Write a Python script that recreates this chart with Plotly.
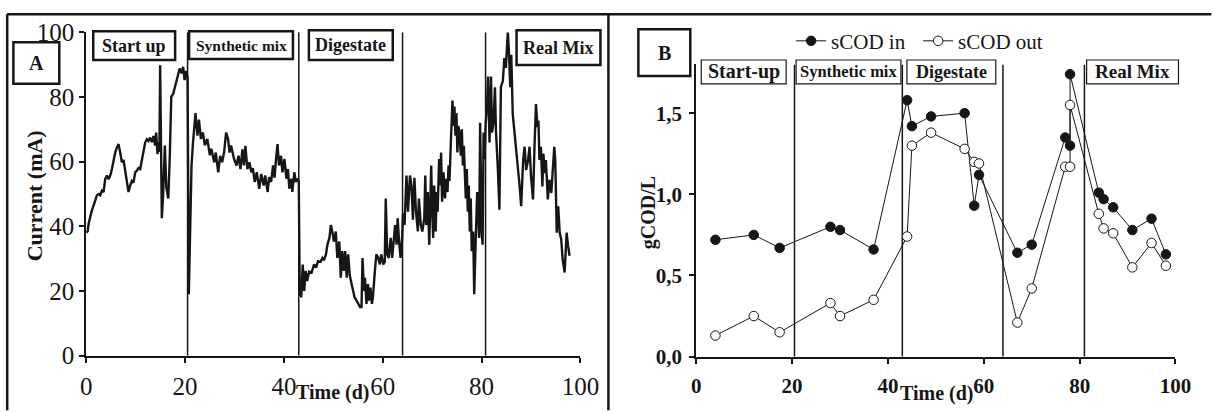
import plotly.graph_objects as go

W, H = 1213, 412
FONT = "Liberation Serif"
INK = "#161616"

# ---------------- Panel A: current vs time ----------------
current_readings = [
    (0.0, 38), (0.27, 38.5), (0.5, 41), (0.81, 43.5), (1.15, 45), (1.5, 46.5), (1.82, 48), (2.16, 49.6),
    (2.49, 50), (2.83, 49.6), (3.16, 51), (3.5, 50.6), (3.84, 54.7), (4.17, 55.7), (4.51, 54.5), (4.85, 55.7),
    (5.19, 57.7), (5.52, 60.8), (5.86, 62.8), (6.19, 64.4), (6.53, 65.4), (6.87, 62.8), (7.2, 59.8), (7.54, 60.5),
    (7.88, 56.7), (8.22, 54.5), (8.55, 50.6), (8.89, 52.6), (9.23, 54), (9.56, 53.5), (9.9, 56.7), (10.24, 57.2),
    (10.57, 58), (10.91, 57.7), (11.25, 60.8), (11.58, 62.8), (11.92, 65.9), (12.26, 66.9), (12.59, 66.4),
    (12.93, 67.4), (13.27, 66), (13.6, 67.9), (13.94, 65), (14.14, 69), (14.41, 62.3), (14.61, 65.9), (14.8, 63),
    (14.95, 89.8), (15.1, 70), (15.29, 42.5), (15.56, 50), (15.9, 65), (16.2, 52), (16.6, 48.6), (16.9, 61.5),
    (17.2, 80), (17.6, 81), (17.9, 82.7), (18.2, 84.2), (18.6, 86.3), (18.9, 88.8), (19.3, 87.3), (19.6, 89.3),
    (19.9, 85.2), (20.2, 88), (20.5, 86), (20.65, 40), (20.75, 19), (20.9, 30), (21.1, 50), (21.3, 58.8),
    (21.6, 65.9), (22.1, 75), (22.5, 68), (22.8, 73), (23.2, 67), (23.6, 69), (24.0, 65), (24.5, 67), (25.0, 62),
    (25.3, 64), (25.9, 59.8), (26.2, 62.8), (26.7, 56.7), (27.1, 61.8), (27.5, 59.8), (27.9, 63), (28.3, 69),
    (28.7, 66.9), (29.0, 62.8), (29.3, 65), (29.9, 60.8), (30.4, 58.8), (30.8, 61.8), (31.2, 57.7), (31.6, 63.8),
    (31.9, 58.8), (32.2, 64.9), (32.6, 57.7), (33.0, 59.8), (33.4, 56.7), (33.7, 58), (34.1, 53.7), (34.5, 56.7),
    (35.0, 51.6), (35.4, 56.2), (35.9, 52.6), (36.2, 55.7), (36.7, 50.6), (37.0, 55.2), (37.4, 53.7), (37.8, 58.8),
    (38.1, 55), (38.4, 60.8), (38.7, 65.4), (39.0, 58.8), (39.4, 61.8), (39.7, 56.7), (40.1, 60.8), (40.5, 54.7),
    (40.8, 57.7), (41.1, 51.6), (41.5, 54.7), (41.7, 50.6), (42.1, 56.7), (42.4, 53.7), (42.7, 54.7), (43.0, 54),
    (43.1, 40), (43.2, 18.5), (43.4, 22.1), (43.5, 18), (43.8, 28.2), (44.1, 20), (44.4, 26.2), (44.7, 23.1),
    (45.1, 26), (45.6, 25.7), (46.1, 28.2), (46.5, 27.2), (46.9, 29.2), (47.4, 29), (47.8, 30.2), (48.1, 29.5),
    (48.5, 31.3), (48.8, 34.3), (49.2, 36.4), (49.5, 40.4), (49.9, 37.4), (50.1, 35.3), (50.5, 38.4), (50.8, 30.2),
    (51.2, 35.3), (51.5, 24.1), (51.8, 32.3), (52.1, 26.2), (52.4, 32.3), (52.7, 24.1), (53.0, 31.3), (53.3, 25),
    (53.7, 22.1), (54.0, 20), (54.3, 18), (54.7, 17), (55.0, 16), (55.4, 15), (55.7, 15), (55.9, 30.2), (56.2, 20),
    (56.4, 24.1), (56.7, 16), (57.0, 22.1), (57.2, 17), (57.5, 21), (57.8, 16), (58.0, 18), (58.4, 26.2),
    (58.7, 31.3), (59.1, 30.2), (59.4, 28.2), (59.7, 31.3), (60.1, 28.2), (60.4, 29), (60.6, 48.6), (60.9, 31.3),
    (61.2, 30.2), (61.6, 36.4), (61.9, 30.2), (62.2, 35.3), (62.5, 40.4), (62.8, 34.3), (63.0, 42.5), (63.3, 35.3),
    (63.6, 30.2), (63.9, 36), (64.1, 44), (64.4, 40.4), (64.8, 55.7), (65.1, 44.5), (65.5, 55.7), (65.8, 52.6),
    (66.1, 42), (66.4, 55), (66.7, 45), (67.1, 38.4), (67.3, 48.6), (67.7, 40.4), (68.0, 38.4), (68.4, 42.5),
    (68.6, 55.7), (68.8, 40.4), (69.1, 50.6), (69.4, 34.3), (69.6, 52.6), (69.8, 58.8), (70.0, 44.5), (70.2, 36.4),
    (70.4, 52.6), (70.7, 38.4), (70.9, 50.6), (71.1, 44.5), (71.4, 60.8), (71.6, 52.6), (71.8, 62.8), (72.0, 47.6),
    (72.3, 56.7), (72.6, 48.6), (72.8, 54.7), (73.1, 50.6), (73.3, 58.8), (73.5, 54), (73.7, 62.8), (73.9, 73),
    (74.1, 78.9), (74.3, 71), (74.5, 77), (74.7, 68), (74.9, 75), (75.1, 62.8), (75.3, 71), (75.5, 69),
    (75.8, 61.8), (76.0, 70), (76.2, 58.8), (76.4, 64.9), (76.6, 54.7), (76.8, 48.6), (77.0, 57.7), (77.2, 44.5),
    (77.4, 52.6), (77.6, 38.4), (77.8, 48.6), (78.0, 32.3), (78.3, 38.4), (78.5, 19), (78.7, 30.2), (78.9, 41.4),
    (79.1, 50.6), (79.3, 44.5), (79.5, 36.4), (79.7, 72), (79.8, 54.7), (80.0, 38.4), (80.2, 34.3), (80.4, 69),
    (80.6, 60.8), (80.8, 71), (81.1, 78), (81.3, 86.3), (81.6, 65.9), (81.9, 86.3), (82.1, 69), (82.4, 72),
    (82.7, 83), (82.9, 69.6), (83.3, 57.3), (83.6, 45.1), (83.9, 83), (84.3, 85), (84.6, 92), (84.9, 89),
    (85.3, 100), (85.5, 95), (85.8, 83), (86.0, 93), (86.3, 74.7), (86.7, 68.6), (87.0, 62.5), (87.4, 56.4),
    (87.7, 52.3), (88.0, 46.2), (88.4, 60.5), (88.7, 64.6), (89.0, 57.4), (89.4, 60.5), (89.7, 64.6), (90.0, 55.4),
    (90.4, 48.3), (90.7, 64.6), (91.0, 77.8), (91.3, 70.7), (91.5, 72.7), (91.7, 60.5), (92.0, 64.6), (92.3, 52.3),
    (92.5, 62.5), (92.8, 56.4), (93.0, 60.5), (93.4, 48.3), (93.7, 54.4), (94.1, 50.3), (94.4, 56.4), (94.7, 64.6),
    (94.9, 60.5), (95.2, 38.0), (95.5, 46.2), (95.8, 38.0), (96.1, 36), (96.4, 29.8), (96.8, 25.7), (97.0, 31.8),
    (97.2, 38), (97.5, 33.9), (97.8, 30.9),
]
time_a = [t for t, _ in current_readings]
current_a = [c for _, c in current_readings]

phase_a = [20.5, 43.0, 64.0, 80.8]
phase_b = [20.5, 43.0, 64.0, 81.0]
phase_names_a = ["Start up", "Synthetic mix", "Digestate", "Real Mix"]
phase_names_b = ["Start-up", "Synthetic mix", "Digestate", "Real Mix"]

# ---------------- Panel B: sCOD ----------------
time_b = [4, 12, 17.4, 28, 30, 37, 44, 45, 49, 56, 58, 59, 67, 70, 77, 78, 78, 84, 85, 87, 91, 95, 98]
scod_in = [0.72, 0.75, 0.67, 0.80, 0.78, 0.66, 1.58, 1.42, 1.48, 1.50, 0.93, 1.12, 0.64, 0.69,
           1.35, 1.30, 1.74, 1.01, 0.97, 0.92, 0.78, 0.85, 0.63]
scod_out = [0.13, 0.25, 0.15, 0.33, 0.25, 0.35, 0.74, 1.30, 1.38, 1.28, 1.20, 1.19, 0.21, 0.42,
            1.17, 1.17, 1.55, 0.88, 0.79, 0.76, 0.55, 0.70, 0.56]

x_ticks = [0, 20, 40, 60, 80, 100]
ya_ticks = [0, 20, 40, 60, 80, 100]
yb_ticks = [0, 0.5, 1.0, 1.5]
yb_ticktext = ["0,0", "0,5", "1,0", "1,5"]


# layout positions are given in reference-picture pixels; calibrate them to page pixels
def TX(p):
    return (p - 5.6) / 0.981


def TY(p):
    return (p - 11.6) / 0.942


def fx(p):
    return TX(p) / W


def fy(p):
    return 1 - TY(p) / H


def vlines(xs, top):
    xx, yy = [], []
    for v in xs:
        xx += [v, v, None]
        yy += [0, top, None]
    return xx, yy


fig = go.Figure()

pa_x, pa_y = vlines(phase_a, 100)
fig.add_trace(go.Scatter(x=pa_x, y=pa_y, mode="lines", line=dict(color=INK, width=1.5),
                         showlegend=False, hoverinfo="skip", xaxis="x", yaxis="y"))
fig.add_trace(go.Scatter(x=time_a, y=current_a, mode="lines", line=dict(color=INK, width=2.4),
                         showlegend=False, xaxis="x", yaxis="y"))

pb_x, pb_y = vlines(phase_b, 1.8)
fig.add_trace(go.Scatter(x=pb_x, y=pb_y, mode="lines", line=dict(color=INK, width=1.5),
                         showlegend=False, hoverinfo="skip", xaxis="x2", yaxis="y2"))
fig.add_trace(go.Scatter(x=time_b, y=scod_in, mode="lines+markers", name="sCOD in",
                         line=dict(color=INK, width=1),
                         marker=dict(symbol="circle", size=9.5, color=INK, line=dict(color=INK, width=1)),
                         xaxis="x2", yaxis="y2"))
fig.add_trace(go.Scatter(x=time_b, y=scod_out, mode="lines+markers", name="sCOD out",
                         line=dict(color=INK, width=1),
                         marker=dict(symbol="circle", size=9.5, color="white", line=dict(color=INK, width=1)),
                         xaxis="x2", yaxis="y2"))

axis_common = dict(showgrid=False, zeroline=False, showline=True, linecolor=INK, linewidth=2,
                   ticks="outside", ticklen=5, tickwidth=1.5, tickcolor=INK, fixedrange=True)

fig.update_layout(
    width=W, height=H,
    margin=dict(l=0, r=0, t=0, b=0),
    paper_bgcolor="white", plot_bgcolor="white",
    font=dict(family=FONT, color=INK),
    xaxis=dict(domain=[fx(86), fx(581)], range=[0, 100], anchor="y", tickvals=x_ticks,
               tickfont=dict(family=FONT, size=25, color=INK), ticklabelstandoff=2, **axis_common),
    yaxis=dict(domain=[fy(357), fy(31)], range=[0, 100], anchor="x", tickvals=ya_ticks,
               tickfont=dict(family=FONT, size=25, color=INK), **axis_common),
    xaxis2=dict(domain=[fx(697), fx(1177)], range=[0, 100], anchor="y2", tickvals=x_ticks,
                tickfont=dict(family=FONT, size=21, color=INK, weight="bold"), ticklabelstandoff=4,
                **axis_common),
    yaxis2=dict(domain=[fy(358), fy(63.5)], range=[0, 1.8], anchor="x2", tickvals=yb_ticks,
                ticktext=yb_ticktext, tickfont=dict(family=FONT, size=21, color=INK, weight="bold"),
                ticklabelstandoff=3, **axis_common),
    legend=dict(orientation="h", x=fx(792), y=fy(40), xanchor="left", yanchor="middle",
                font=dict(family=FONT, size=21, color=INK), bgcolor="rgba(0,0,0,0)",
                itemwidth=30, entrywidth=82, traceorder="normal"),
)

shapes = []
# outer frame
for (x0, y0, x1, y1) in [(6.8, 12.8, 1213, 12.8), (6.8, 12.8, 6.8, 412), (609, 12.8, 609, 412)]:
    shapes.append(dict(type="line", xref="paper", yref="paper", x0=fx(x0), y0=fy(y0), x1=fx(x1), y1=fy(y1),
                       line=dict(color=INK, width=2.5)))

boxes = [
    # (x0, y0, x1, y1, text, size, border)
    (13, 41, 59, 83, "A", 20, 2.5),
    (93, 30, 175, 59, phase_names_a[0], 18, 2.5),
    (189, 30, 293, 58, phase_names_a[1], 15.5, 2.5),
    (309, 29, 393, 59, phase_names_a[2], 18, 2.5),
    (517, 29, 601, 64, phase_names_a[3], 18, 2.5),
    (639, 28, 691, 75, "B", 20, 2.5),
    (702, 59, 787, 83, phase_names_b[0], 20, 1.2),
    (797, 59, 902, 83, phase_names_b[1], 16.5, 1.2),
    (908, 59, 997, 83, phase_names_b[2], 18, 1.2),
    (1088, 59, 1180, 83, phase_names_b[3], 19, 1.2),
]
annotations = []
for (x0, y0, x1, y1, txt, size, bw) in boxes:
    shapes.append(dict(type="rect", xref="paper", yref="paper", x0=fx(x0), y0=fy(y0), x1=fx(x1), y1=fy(y1),
                       line=dict(color=INK, width=bw), fillcolor="white", layer="above"))
    annotations.append(dict(xref="paper", yref="paper", x=fx((x0 + x1) / 2), y=fy((y0 + y1) / 2),
                            text=txt, showarrow=False, xanchor="center", yanchor="middle",
                            font=dict(family=FONT, size=size, color=INK, weight="bold")))

# axis titles
annotations += [
    dict(xref="paper", yref="paper", x=fx(35), y=fy(196), text="Current (mA)", textangle=-90,
         showarrow=False, xanchor="center", yanchor="middle",
         font=dict(family=FONT, size=22, color=INK, weight="bold")),
    dict(xref="paper", yref="paper", x=fx(333), y=fy(394), text="Time (d)", showarrow=False,
         xanchor="center", yanchor="middle", font=dict(family=FONT, size=20, color=INK, weight="bold")),
    dict(xref="paper", yref="paper", x=fx(649), y=fy(213), text="gCOD/L", textangle=-90,
         showarrow=False, xanchor="center", yanchor="middle",
         font=dict(family=FONT, size=20, color=INK, weight="bold")),
    dict(xref="paper", yref="paper", x=fx(938), y=fy(395.5), text="Time (d)", showarrow=False,
         xanchor="center", yanchor="middle", font=dict(family=FONT, size=20, color=INK, weight="bold")),
]

fig.update_layout(shapes=shapes, annotations=annotations)

page_css = ("html,body{margin:0;padding:0;overflow:hidden;width:1213px;height:412px;}"
            ".plotly-graph-div{position:absolute;top:0;left:0;}")
fig.write_html(
    "out.html",
    config={"displayModeBar": False},
    post_script="var s=document.createElement('style');s.innerHTML='" + page_css + "';"
                "document.head.appendChild(s);",
)
